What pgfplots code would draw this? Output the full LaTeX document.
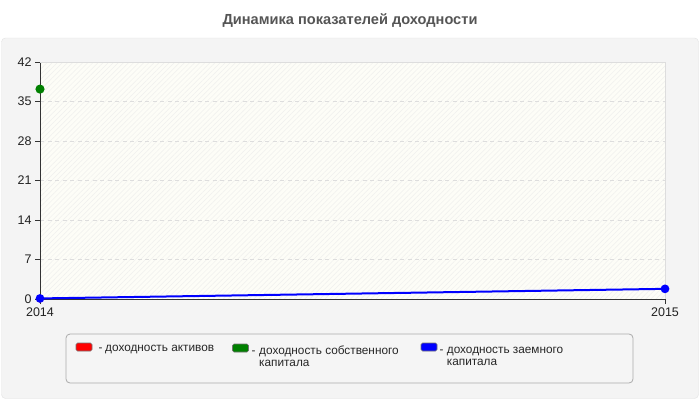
\documentclass[border=0pt]{standalone}
\usepackage{pgfplots}
\pgfplotsset{compat=1.18}
\usetikzlibrary{patterns.meta}
\usepackage{fontspec}
\setmainfont{Liberation Sans}
\definecolor{panel}{HTML}{F4F4F4}
\definecolor{panelborder}{HTML}{E2E2E2}
\definecolor{legfill}{HTML}{F5F5F5}
\definecolor{legborder}{HTML}{ABABAB}
\definecolor{titlec}{HTML}{555555}
\definecolor{tickc}{HTML}{222222}
\definecolor{gridc}{HTML}{DDDDDD}
\definecolor{plotbg}{HTML}{FDFDF7}
\definecolor{hatch}{HTML}{F0F0EE}
\definecolor{dgreen}{HTML}{008000}
\begin{document}
\begin{tikzpicture}[x=1pt,y=1pt]
\path[use as bounding box] (0,0) rectangle (700,400);
\fill[white] (0,0) rectangle (700,400);
\draw[panelborder,fill=panel,rounded corners=4pt] (1.5,1.5) rectangle (698.5,362);
\node[font=\fontsize{14.6}{16}\selectfont\bfseries,text=titlec] at (350,379) {Динамика показателей доходности};
\begin{axis}[
  at={(40pt,101pt)}, anchor=south west,
  scale only axis, width=625pt, height=237pt,
  xmin=2014, xmax=2015, ymin=0, ymax=42,
  xtick={2014,2015}, xticklabels={2014,2015},
  ytick={0,7,14,21,28,35,42},
  axis x line*=bottom, axis y line*=left,
  axis line style={-, draw=black!80, line width=0.8pt},
  tick align=outside, major tick length=5pt,
  tick style={draw=black!80, line width=0.8pt},
  ymajorgrids, grid style={dash pattern=on 4pt off 3.5pt, gridc, line width=0.6pt},
  /pgf/number format/assume math mode=true,
  ticklabel style={font=\fontsize{12.5}{14}\selectfont, text=tickc},
  clip=false,
  axis background/.style={fill=plotbg, postaction={pattern={Lines[angle=45,distance=3.6pt,line width=0.5pt]}, pattern color=hatch}},
]
\draw[gridc, line width=0.8pt] (rel axis cs:0,1) -- (rel axis cs:1,1) -- (rel axis cs:1,0);
\addplot[red, line width=2pt, mark=*, mark size=2.5pt] coordinates {(2014,0)};
\addplot[dgreen, line width=2pt, mark=*, mark size=3.5pt] coordinates {(2014,37.2)};
\addplot[blue, line width=2pt, mark=*, mark size=3.3pt] coordinates {(2014,0.1) (2015,1.8)};
\end{axis}
% legend
\draw[legborder, fill=legfill, rounded corners=4pt, line width=0.8pt] (66,66) rectangle (633,17);
\begin{scope}[every node/.style={font=\fontsize{11.8}{13}\selectfont, text=black!85, inner sep=0pt}]
\draw[black!55, fill=red, rounded corners=1.5pt, line width=0.6pt] (76,57) rectangle (92,49);
\node[anchor=base west] at (98.5,49) {-};
\node[anchor=base west] at (105,49) {доходность активов};
\draw[black!55, fill=dgreen, rounded corners=1.5pt, line width=0.6pt] (232.5,56) rectangle (248.5,48);
\node[anchor=base west] at (251.5,46) {-};
\node[anchor=base west, align=left] at (259,46) {доходность собственного};
\node[anchor=base west, align=left] at (259,34) {капитала};
\draw[black!55, fill=blue, rounded corners=1.5pt, line width=0.6pt] (421,57) rectangle (437,49);
\node[anchor=base west] at (439.5,47) {-};
\node[anchor=base west, align=left] at (446.7,47) {доходность заемного};
\node[anchor=base west, align=left] at (446.7,35) {капитала};
\end{scope}
\end{tikzpicture}
\end{document}
